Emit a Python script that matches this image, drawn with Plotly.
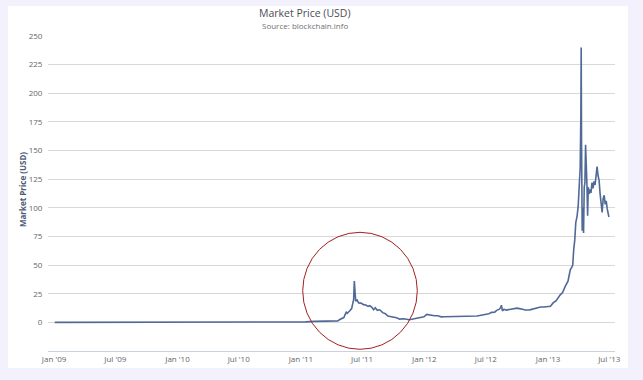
import plotly.graph_objects as go

# ---- data ----
dates = [
    "2009-01-03", "2009-07-01", "2010-01-01", "2010-07-17", "2010-10-01", "2010-11-07",
    "2010-12-15", "2011-01-15", "2011-02-10", "2011-03-10", "2011-04-05", "2011-04-20",
    "2011-04-26", "2011-05-03", "2011-05-08", "2011-05-12", "2011-05-15", "2011-05-18",
    "2011-05-22", "2011-05-27", "2011-05-31", "2011-06-03", "2011-06-06", "2011-06-08",
    "2011-06-10", "2011-06-12", "2011-06-16", "2011-06-21", "2011-06-28", "2011-07-05",
    "2011-07-12", "2011-07-19", "2011-07-24", "2011-07-30", "2011-08-04", "2011-08-09",
    "2011-08-15", "2011-08-22", "2011-08-31", "2011-09-08", "2011-09-15", "2011-09-22",
    "2011-10-01", "2011-10-11", "2011-10-20", "2011-11-01", "2011-11-18", "2011-12-01",
    "2011-12-12", "2011-12-22", "2011-12-31", "2012-01-08", "2012-01-13", "2012-01-20",
    "2012-01-31", "2012-02-10", "2012-02-20", "2012-03-01", "2012-03-20", "2012-04-10",
    "2012-04-25", "2012-05-10", "2012-05-25", "2012-06-05", "2012-06-13", "2012-06-25",
    "2012-07-04", "2012-07-10", "2012-07-18", "2012-07-27", "2012-08-02", "2012-08-10",
    "2012-08-14", "2012-08-16", "2012-08-19", "2012-08-24", "2012-08-30", "2012-09-10",
    "2012-09-20", "2012-10-01", "2012-10-12", "2012-10-25", "2012-11-08", "2012-11-20",
    "2012-11-30", "2012-12-10", "2012-12-20",
    "2013-01-01", "2013-01-08", "2013-01-16", "2013-01-25", "2013-02-06", "2013-02-13",
    "2013-02-20", "2013-03-01", "2013-03-05", "2013-03-08", "2013-03-12", "2013-03-15",
    "2013-03-18", "2013-03-21", "2013-03-24", "2013-03-28", "2013-03-31", "2013-04-03",
    "2013-04-06", "2013-04-08", "2013-04-09", "2013-04-10", "2013-04-11", "2013-04-12",
    "2013-04-14", "2013-04-16", "2013-04-18", "2013-04-20", "2013-04-22", "2013-04-24",
    "2013-04-26", "2013-04-28", "2013-04-30", "2013-05-02", "2013-05-05", "2013-05-08",
    "2013-05-11", "2013-05-14", "2013-05-17", "2013-05-20", "2013-05-23", "2013-05-26",
    "2013-05-29", "2013-06-01", "2013-06-04", "2013-06-07", "2013-06-10", "2013-06-13",
    "2013-06-16", "2013-06-19", "2013-06-22", "2013-06-25", "2013-06-28", "2013-06-30",
]
prices = [
    0, 0, 0, 0.05, 0.06, 0.25,
    0.23, 0.4, 0.9, 0.9, 0.8, 1.3,
    2.5, 3.6, 4.2, 7.0, 8.8, 7.8,
    9.5, 10.5, 12.0, 16.0, 20.0, 36.0,
    24.0, 18.5, 19.5, 17.0, 16.8, 15.5,
    15.2, 14.0, 14.5, 13.2, 11.0, 12.8,
    10.5, 11.0, 8.5, 7.5, 5.5, 5.2,
    5.0, 4.0, 2.8, 3.2, 2.3, 3.0,
    3.2, 4.0, 4.8, 7.0, 6.6, 6.3,
    5.8, 5.8, 4.8, 4.9, 4.9, 4.9,
    5.1, 5.0, 5.2, 5.5, 6.0, 6.4,
    6.8, 7.5, 8.7, 8.9, 10.5, 11.5,
    13.0, 15.0, 10.0, 11.5, 10.7, 11.2,
    12.3, 12.4, 11.8, 10.8, 10.9, 11.8,
    12.5, 13.4, 13.4,
    13.5, 14.0, 17.0, 19.0, 24.0, 26.0,
    31.0, 36.0, 42.0, 46.0, 48.0, 50.0,
    64.0, 72.0, 87.0, 93.0, 101.0, 115.0,
    135.0, 180.0, 240.0, 160.0, 105.0, 80.0,
    100.0, 78.0, 118.0, 122.0, 155.0, 142.0,
    120.0, 93.0, 118.0, 112.0, 116.0, 113.0,
    122.0, 117.0, 123.0, 120.0, 130.0, 136.0,
    128.0, 124.0, 112.0, 100.0, 96.0, 108.0,
    111.0, 103.0, 106.0, 99.0, 94.0, 92.0,
]

x_tick_vals = ["2009-01-01", "2009-07-01", "2010-01-01", "2010-07-01", "2011-01-01",
               "2011-07-01", "2012-01-01", "2012-07-01", "2013-01-01", "2013-07-01"]
x_tick_text = ["Jan '09", "Jul '09", "Jan '10", "Jul '10", "Jan '11",
               "Jul '11", "Jan '12", "Jul '12", "Jan '13", "Jul '13"]
y_tick_vals = [0, 25, 50, 75, 100, 125, 150, 175, 200, 225, 250]

title_text = "Market Price (USD)"
subtitle_text = "Source: blockchain.info"
y_title = "Market Price (USD)"

FONT = "Open Sans, DejaVu Sans, sans-serif"

fig = go.Figure()
fig.add_trace(go.Scatter(
    x=dates, y=prices, mode="lines",
    line=dict(color="#506a98", width=1.6),
    hoverinfo="skip", showlegend=False,
))

fig.update_layout(
    width=643, height=380,
    margin=dict(l=48, r=28, t=36, b=29),
    paper_bgcolor="#f3f1fc",
    plot_bgcolor="rgba(0,0,0,0)",
    font=dict(family=FONT, color="#666666"),
    xaxis=dict(
        type="date",
        range=["2008-12-14", "2013-07-18"],
        tickvals=x_tick_vals, ticktext=x_tick_text,
        tickfont=dict(size=8, color="#666666"),
        showgrid=False, zeroline=False,
        showline=True, linecolor="#c9d2de", linewidth=1,
        ticks="",
    ),
    yaxis=dict(
        range=[-25, 250],
        tickvals=y_tick_vals,
        tickfont=dict(size=8, color="#666666"),
        showgrid=True, gridcolor="#d8d8d8", gridwidth=1,
        zeroline=False, showline=False,
        ticks="outside", ticklen=3, tickcolor="rgba(0,0,0,0)",
    ),
    shapes=[
        # white chart panel
        dict(type="rect", xref="paper", yref="paper",
             x0=(8 - 48) / 567, x1=(628 - 48) / 567,
             y0=(351 - 368) / 315, y1=(351 - 6) / 315,
             fillcolor="white", line=dict(width=0), layer="below"),
        # red highlight circle
        dict(type="circle", xref="paper", yref="paper",
             x0=(302.7 - 48) / 567, x1=(417.3 - 48) / 567,
             y0=(351 - 349.3) / 315, y1=(351 - 232.3) / 315,
             line=dict(color="#a31e22", width=1), layer="above"),
    ],
    annotations=[
        dict(text=title_text, xref="paper", yref="paper",
             x=(305 - 48) / 567, y=(351 - 12.5) / 315,
             xanchor="center", yanchor="middle", showarrow=False,
             font=dict(size=10.5, color="#4d4d55", family=FONT)),
        dict(text=subtitle_text, xref="paper", yref="paper",
             x=(305 - 48) / 567, y=(351 - 26) / 315,
             xanchor="center", yanchor="middle", showarrow=False,
             font=dict(size=8, color="#707070", family=FONT)),
        dict(text="<b>" + y_title + "</b>", xref="paper", yref="paper",
             x=(22 - 48) / 567, y=(351 - 190) / 315,
             xanchor="center", yanchor="middle", showarrow=False, textangle=-90,
             font=dict(size=8, color="#4d5b76", family=FONT)),
    ],
)

fig.write_html("out.html", config={"displayModeBar": False},
               post_script="document.body.style.margin='0';")
